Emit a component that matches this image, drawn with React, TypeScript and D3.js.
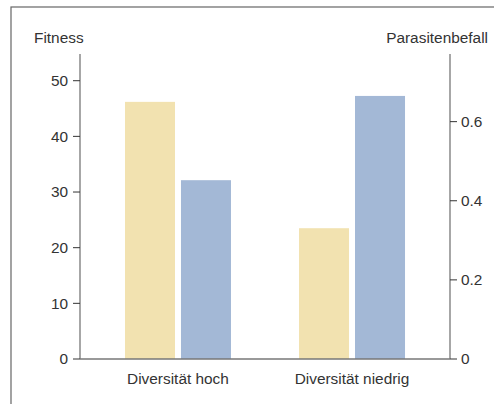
import React from "react";
import * as d3 from "d3";

const categories = ["Diversität hoch", "Diversität niedrig"];
const seriesKeys = ["Fitness", "Parasitenbefall"];
const fitnessValues = [46.2, 23.5];
const parasiteValues = [0.452, 0.665];
const leftTicks = [0, 10, 20, 30, 40, 50];
const rightTicks = [0, 0.2, 0.4, 0.6];
const rightTickLabels = ["0", "0.2", "0.4", "0.6"];

const W = 494;
const H = 404;
const FONT = "'Liberation Sans', Arial, sans-serif";
const FS = 15.4;
const TEXT = "#333";
const AXIS = "#777";
const YELLOW = "#f2e2b0";
const BLUE = "#a3b8d6";

export default function App() {
  const x0 = 80;
  const x1 = 450;
  const yBottom = 359;
  const yTop = 54;
  const yLeft = d3.scaleLinear().domain([0, 54.8]).range([yBottom, yTop]);
  const yRight = d3.scaleLinear().domain([0, 0.771]).range([yBottom, yTop]);
  const xGroup = d3.scalePoint<string>().domain(categories).range([x0, x1]).padding(0.563);
  const xInner = d3.scaleBand<string>().domain(seriesKeys).range([-53, 53]).paddingInner(0.107);
  const bw = xInner.bandwidth();

  return (
    <svg width={W} height={H} style={{ position: "absolute", left: 0, top: 0 }} fontFamily={FONT}>
      <rect x={11} y={7} width={600} height={600} fill="none" stroke="#666" strokeWidth={1.2} />
      {categories.map((c, i) => {
        const cx = xGroup(c) as number;
        return (
          <g key={c}>
            <rect
              x={cx + (xInner("Fitness") as number)}
              y={yLeft(fitnessValues[i])}
              width={bw}
              height={yBottom - yLeft(fitnessValues[i])}
              fill={YELLOW}
            />
            <rect
              x={cx + (xInner("Parasitenbefall") as number)}
              y={yRight(parasiteValues[i])}
              width={bw}
              height={yBottom - yRight(parasiteValues[i])}
              fill={BLUE}
            />
            <text x={cx} y={384} textAnchor="middle" fontSize={FS} fill={TEXT}>
              {c}
            </text>
          </g>
        );
      })}
      {/* left axis */}
      <line x1={x0} x2={x0} y1={yTop} y2={yBottom} stroke={AXIS} strokeWidth={1.3} />
      {leftTicks.map((t) => (
        <g key={t}>
          <line x1={x0 - 7} x2={x0} y1={yLeft(t)} y2={yLeft(t)} stroke={TEXT} strokeWidth={1} />
          <text x={x0 - 12} y={yLeft(t)} dy="0.35em" textAnchor="end" fontSize={FS} fill={TEXT}>
            {t}
          </text>
        </g>
      ))}
      {/* right axis */}
      <line x1={x1} x2={x1} y1={yTop} y2={yBottom} stroke={AXIS} strokeWidth={1.3} />
      {rightTicks.map((t, i) => (
        <g key={t}>
          <line x1={x1} x2={x1 + 7} y1={yRight(t)} y2={yRight(t)} stroke={TEXT} strokeWidth={1} />
          <text x={x1 + 11} y={yRight(t)} dy="0.35em" textAnchor="start" fontSize={FS} fill={TEXT}>
            {rightTickLabels[i]}
          </text>
        </g>
      ))}
      {/* baseline */}
      <line x1={x0} x2={x1} y1={yBottom} y2={yBottom} stroke={AXIS} strokeWidth={1.5} />
      <text x={34} y={43} fontSize={FS} fill={TEXT}>Fitness</text>
      <text x={488} y={43} textAnchor="end" fontSize={FS} fill={TEXT}>Parasitenbefall</text>
    </svg>
  );
}
